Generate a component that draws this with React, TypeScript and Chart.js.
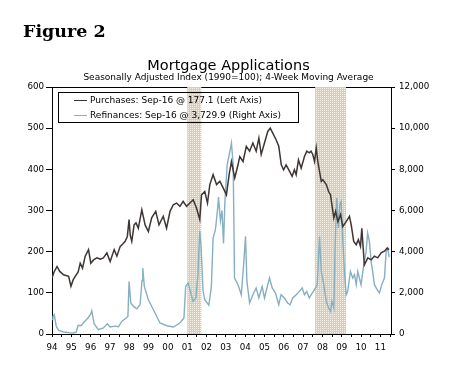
import React, { useEffect, useRef } from 'react';
import { Chart, registerables } from 'chart.js';

Chart.register(...registerables);

// Purchases index (left axis)
const purchaseYears = [
  1994.00, 1994.10, 1994.26, 1994.40, 1994.60, 1994.86, 1994.98, 1995.10, 1995.20, 1995.35,
  1995.46, 1995.58, 1995.72, 1995.89, 1996.01, 1996.15, 1996.32, 1996.50, 1996.66, 1996.84,
  1997.01, 1997.22, 1997.36, 1997.53, 1997.65, 1997.79, 1997.90, 1997.99, 1998.05, 1998.13,
  1998.25, 1998.35, 1998.47, 1998.65, 1998.82, 1998.99, 1999.16, 1999.37, 1999.54, 1999.76,
  1999.93, 2000.11, 2000.28, 2000.45, 2000.62, 2000.79, 2000.97, 2001.14, 2001.31, 2001.48,
  2001.65, 2001.74, 2001.91, 2002.05, 2002.17, 2002.34, 2002.52, 2002.69, 2002.86, 2003.03,
  2003.17, 2003.29, 2003.46, 2003.63, 2003.72, 2003.89, 2004.06, 2004.23, 2004.40, 2004.57,
  2004.71, 2004.83, 2005.00, 2005.17, 2005.30, 2005.43, 2005.60, 2005.74, 2005.87, 2005.99,
  2006.12, 2006.30, 2006.43, 2006.55, 2006.64, 2006.76, 2006.90, 2007.07, 2007.19, 2007.32,
  2007.41, 2007.50, 2007.59, 2007.68, 2007.76, 2007.85, 2007.94, 2008.02, 2008.20, 2008.32,
  2008.42, 2008.49, 2008.59, 2008.68, 2008.80, 2008.94, 2009.05, 2009.23, 2009.40, 2009.49,
  2009.62, 2009.75, 2009.86, 2009.97, 2010.04, 2010.17, 2010.35, 2010.52, 2010.69, 2010.86,
  2011.04, 2011.21, 2011.35, 2011.45,
];
const purchaseValues = [
  136, 150, 164, 152, 144, 140, 116, 132, 140, 150,
  172, 160, 189, 205, 172, 180, 185, 182, 185, 197,
  176, 205, 189, 213, 218, 225, 237, 278, 240, 225,
  265, 270, 257, 302, 265, 249, 282, 298, 265, 286,
  257, 298, 314, 318, 310, 322, 310, 318, 326, 306,
  278, 338, 346, 318, 363, 387, 363, 371, 355, 338,
  387, 419, 379, 411, 431, 419, 456, 444, 464, 444,
  476, 436, 464, 492, 500, 488, 472, 456, 411, 399,
  411, 395, 383, 399, 387, 423, 403, 431, 444, 440,
  444, 436, 419, 452, 419, 395, 371, 375, 363, 346,
  338, 314, 282, 298, 273, 290, 261, 273, 286, 265,
  225, 217, 229, 213, 257, 168, 185, 180, 189, 185,
  197, 201, 209, 205,
];

// Refinances index (right axis)
const refiYears = [
  1994.00, 1994.05, 1994.12, 1994.22, 1994.35, 1994.60, 1994.90, 1995.10, 1995.25, 1995.35,
  1995.50, 1995.62, 1995.86, 1996.00, 1996.06, 1996.18, 1996.40, 1996.66, 1996.87, 1997.01,
  1997.27, 1997.44, 1997.61, 1997.84, 1997.93, 1997.99, 1998.08, 1998.22, 1998.39, 1998.56,
  1998.66, 1998.70, 1998.78, 1998.99, 1999.25, 1999.59, 1999.94, 2000.28, 2000.62, 2000.83,
  2000.92, 2001.05, 2001.30, 2001.45, 2001.55, 2001.65, 2001.72, 2001.82, 2001.91, 2002.12,
  2002.25, 2002.34, 2002.46, 2002.57, 2002.62, 2002.72, 2002.80, 2002.88, 2002.95, 2003.07,
  2003.21, 2003.29, 2003.38, 2003.45, 2003.63, 2003.80, 2003.92, 2004.02, 2004.09, 2004.23,
  2004.40, 2004.57, 2004.71, 2004.88, 2005.00, 2005.17, 2005.26, 2005.40, 2005.57, 2005.74,
  2005.86, 2006.03, 2006.20, 2006.33, 2006.46, 2006.64, 2006.81, 2006.95, 2007.07, 2007.19,
  2007.32, 2007.42, 2007.59, 2007.73, 2007.85, 2007.94, 2008.07, 2008.20, 2008.32, 2008.42,
  2008.49, 2008.59, 2008.66, 2008.74, 2008.83, 2008.90, 2008.97, 2009.05, 2009.14, 2009.23,
  2009.31, 2009.45, 2009.57, 2009.66, 2009.75, 2009.83, 2010.00, 2010.13, 2010.26, 2010.34,
  2010.43, 2010.52, 2010.60, 2010.69, 2010.83, 2010.95, 2011.07, 2011.21, 2011.30, 2011.38,
  2011.45,
];
const refiValues = [
  700, 855, 938, 369, 180, 100, 60, 50, 90, 420,
  400, 534, 777, 960, 1130, 500, 209, 291, 500, 340,
  380, 350, 612, 777, 855, 2555, 1506, 1341, 1220, 1423,
  2600, 3206, 2312, 1666, 1180, 534, 403, 340, 534, 777,
  2312, 2477, 1584, 1750, 2800, 5000, 4200, 2100, 1666, 1400,
  2300, 4664, 5067, 6039, 6650, 5500, 6000, 4400, 6400, 8225,
  8870, 9279, 8225, 2720, 2395, 1909, 3366, 4741, 2555, 1506,
  1909, 2235, 1749, 2312, 1749, 2395, 2720, 2235, 1992, 1423,
  1909, 1749, 1506, 1423, 1749, 1909, 2070, 2235, 1909, 2070,
  1750, 1909, 2152, 2395, 4741, 3041, 2395, 1584, 1263, 1098,
  1584, 1263, 4338, 6607, 5150, 6281, 6442, 4664, 3041, 1909,
  2070, 3041, 2720, 2880, 2395, 3041, 2395, 3284, 4013, 4906,
  4500, 3527, 3041, 2395, 2152, 1992, 2395, 2720, 4013, 4178,
  3730,
];

// Recession shading (years)
const recessionStarts = [2001.0, 2007.62];
const recessionEnds = [2001.73, 2009.22];

const legendLabels = [
  'Purchases: Sep-16 @ 177.1 (Left Axis)',
  'Refinances: Sep-16 @ 3,729.9 (Right Axis)',
];

const PURCH_COLOR = '#3d3634';
const REFI_COLOR = '#86afc2';
const FONT = '"DejaVu Sans", Verdana, sans-serif';

function makeBandPattern(ctx: CanvasRenderingContext2D) {
  const c = document.createElement('canvas');
  c.width = 2;
  c.height = 2;
  const g = c.getContext('2d')!;
  g.fillStyle = 'rgb(232,202,162)';
  g.fillRect(0, 0, 2, 2);
  g.fillStyle = 'rgb(247,240,228)';
  g.fillRect(0, 0, 1, 1);
  return ctx.createPattern(c, 'repeat') || 'rgb(236,212,178)';
}

const framePlugin = {
  id: 'frameAndBands',
  beforeDatasetsDraw(chart: any) {
    const { ctx, chartArea, scales } = chart;
    ctx.save();
    ctx.strokeStyle = '#000';
    ctx.lineWidth = 1;
    ctx.beginPath();
    ctx.moveTo(chartArea.left, chartArea.top + 0.5);
    ctx.lineTo(chartArea.right, chartArea.top + 0.5);
    ctx.stroke();
    ctx.fillStyle = makeBandPattern(ctx);
    for (let i = 0; i < recessionStarts.length; i++) {
      const x1 = scales.x.getPixelForValue(recessionStarts[i]);
      const x2 = scales.x.getPixelForValue(recessionEnds[i]);
      ctx.fillRect(x1, chartArea.top, x2 - x1, chartArea.bottom - chartArea.top);
    }
    ctx.restore();
  },
};

export default function App() {
  const canvasRef = useRef<HTMLCanvasElement>(null);

  useEffect(() => {
    const canvas = canvasRef.current;
    if (!canvas) return;
    const tickFont = { family: FONT, size: 8.7 };
    const chart = new Chart(canvas, {
      type: 'line',
      data: {
        datasets: [
          {
            label: legendLabels[0],
            data: purchaseYears.map((x, i) => ({ x, y: purchaseValues[i] })),
            yAxisID: 'y',
            borderColor: PURCH_COLOR,
            borderWidth: 1.5,
            pointRadius: 0,
            tension: 0,
          },
          {
            label: legendLabels[1],
            data: refiYears.map((x, i) => ({ x, y: refiValues[i] })),
            yAxisID: 'y1',
            borderColor: REFI_COLOR,
            borderWidth: 1.4,
            pointRadius: 0,
            tension: 0,
          },
        ],
      },
      options: {
        animation: false,
        responsive: false,
        devicePixelRatio: 1,
        layout: { padding: { left: 5, right: 0, top: 0, bottom: 0 } },
        plugins: {
          legend: { display: false },
          tooltip: { enabled: false },
          title: {
            display: true,
            text: 'Mortgage Applications',
            color: '#000',
            font: { family: FONT, size: 14.5, weight: 'normal', lineHeight: '8px' },
            padding: { top: 62, bottom: 5 },
          },
          subtitle: {
            display: true,
            text: 'Seasonally Adjusted Index (1990=100); 4-Week Moving Average',
            color: '#000',
            font: { family: FONT, size: 9, weight: 'normal', lineHeight: '5px' },
            padding: { top: 0, bottom: 7 },
          },
        },
        scales: {
          x: {
            type: 'linear',
            min: 1994,
            max: 2011.55,
            ticks: {
              stepSize: 0.5,
              autoSkip: false,
              maxRotation: 0,
              includeBounds: false,
              color: '#000',
              font: tickFont,
              padding: 6,
              callback: (v: any) =>
                Number.isInteger(v) ? String(v % 100).padStart(2, '0') : '',
            },
            grid: { display: true, drawOnChartArea: false, tickLength: 3, color: '#000' },
            border: { display: true, color: '#000', width: 1 },
            afterFit: (s: any) => {
              s.height = 33;
            },
          },
          y: {
            position: 'left',
            min: 0,
            max: 600,
            ticks: { stepSize: 100, color: '#000', font: tickFont, padding: 2 },
            grid: { display: true, drawOnChartArea: false, tickLength: 6, color: '#000' },
            border: { display: true, color: '#000', width: 1 },
            afterFit: (s: any) => {
              s.width = 47;
            },
          },
          y1: {
            position: 'right',
            min: 0,
            max: 12000,
            ticks: {
              stepSize: 2000,
              color: '#000',
              font: tickFont,
              padding: 4,
              callback: (v: any) => Number(v).toLocaleString('en-US'),
            },
            grid: { display: true, drawOnChartArea: false, tickLength: 4, color: '#000' },
            border: { display: true, color: '#000', width: 1 },
            afterFit: (s: any) => {
              s.width = 61;
            },
          },
        },
      },
      plugins: [framePlugin],
    } as any);
    return () => chart.destroy();
  }, []);

  const rowStyle = (top: number): React.CSSProperties => ({
    position: 'absolute',
    left: 15,
    top,
    height: 11,
    lineHeight: '11px',
    whiteSpace: 'nowrap',
  });
  const swatch = (color: string): React.CSSProperties => ({
    display: 'inline-block',
    width: 13,
    height: 0,
    borderTop: `1px solid ${color}`,
    verticalAlign: 'middle',
    marginRight: 3,
  });

  return (
    <div style={{ position: 'absolute', left: 0, top: 0, width: 452, height: 367, background: '#fff' }}>
      <canvas
        ref={canvasRef}
        width={452}
        height={367}
        style={{ position: 'absolute', left: 0, top: 0, width: 452, height: 367 }}
      />
      <div
        style={{
          position: 'absolute',
          left: 23,
          top: 23,
          font: 'bold 17.5px "DejaVu Serif", Georgia, serif',
          lineHeight: '17px',
          color: '#000',
          whiteSpace: 'nowrap',
        }}
      >
        Figure 2
      </div>
      <div
        style={{
          position: 'absolute',
          left: 58,
          top: 92,
          width: 241,
          height: 31,
          boxSizing: 'border-box',
          border: '1px solid #000',
          font: `9px ${FONT}`,
          color: '#000',
        }}
      >
        <div style={rowStyle(2)}>
          <span style={swatch(PURCH_COLOR)} />
          {legendLabels[0]}
        </div>
        <div style={rowStyle(16.5)}>
          <span style={swatch(REFI_COLOR)} />
          {legendLabels[1]}
        </div>
      </div>
    </div>
  );
}
